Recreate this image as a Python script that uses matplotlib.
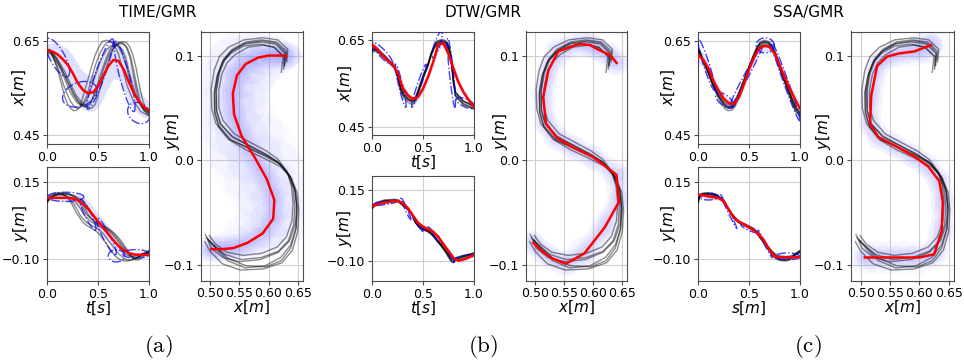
import numpy as np
import matplotlib
matplotlib.use("Agg")
import matplotlib.pyplot as plt
from matplotlib.patches import Ellipse

# ---------------- data ----------------
# demonstration paths (x, y) in metres, shared by all three methods
demo_x = [
    [0.631,0.633,0.616,0.590,0.558,0.532,0.516,0.507,0.502,0.503,0.510,0.531,0.561,0.592,0.620,0.639,0.649,0.652,0.650,0.641,0.623,0.591,0.552,0.521,0.500,0.491],
    [0.626,0.627,0.609,0.585,0.557,0.535,0.521,0.512,0.507,0.508,0.515,0.535,0.566,0.597,0.621,0.637,0.646,0.649,0.647,0.638,0.621,0.594,0.560,0.530,0.509,0.497],
    [0.622,0.625,0.610,0.591,0.565,0.543,0.529,0.520,0.515,0.515,0.522,0.542,0.569,0.596,0.616,0.631,0.639,0.642,0.640,0.631,0.615,0.588,0.557,0.529,0.509,0.499],
    [0.630,0.631,0.614,0.588,0.561,0.538,0.524,0.515,0.510,0.511,0.518,0.538,0.563,0.590,0.614,0.633,0.644,0.648,0.646,0.636,0.617,0.586,0.551,0.522,0.502,0.492],
    [0.627,0.628,0.612,0.586,0.558,0.536,0.522,0.513,0.508,0.508,0.515,0.535,0.563,0.594,0.620,0.637,0.646,0.649,0.647,0.638,0.622,0.596,0.562,0.531,0.509,0.498],
    [0.628,0.629,0.613,0.590,0.562,0.539,0.525,0.516,0.511,0.511,0.518,0.538,0.567,0.595,0.617,0.633,0.642,0.645,0.643,0.634,0.617,0.588,0.554,0.525,0.504,0.494],
]
demo_y = [
    [0.094,0.106,0.115,0.117,0.115,0.108,0.099,0.086,0.068,0.049,0.035,0.020,0.010,0.002,-0.006,-0.017,-0.031,-0.048,-0.068,-0.086,-0.098,-0.104,-0.105,-0.099,-0.087,-0.078],
    [0.087,0.099,0.108,0.111,0.109,0.102,0.093,0.080,0.064,0.045,0.032,0.019,0.012,0.004,-0.004,-0.016,-0.030,-0.047,-0.065,-0.081,-0.093,-0.101,-0.103,-0.096,-0.084,-0.076],
    [0.084,0.099,0.108,0.110,0.108,0.101,0.093,0.082,0.067,0.050,0.038,0.025,0.017,0.009,0.001,-0.010,-0.024,-0.041,-0.058,-0.073,-0.083,-0.089,-0.091,-0.088,-0.080,-0.072],
    [0.096,0.104,0.113,0.115,0.113,0.106,0.097,0.084,0.066,0.047,0.034,0.023,0.015,0.007,-0.001,-0.012,-0.026,-0.043,-0.061,-0.077,-0.088,-0.095,-0.097,-0.093,-0.084,-0.071],
    [0.090,0.102,0.111,0.113,0.111,0.104,0.095,0.082,0.066,0.047,0.033,0.020,0.012,0.004,-0.004,-0.015,-0.029,-0.046,-0.066,-0.084,-0.096,-0.102,-0.101,-0.094,-0.083,-0.077],
    [0.091,0.103,0.112,0.114,0.112,0.105,0.096,0.083,0.067,0.048,0.035,0.022,0.014,0.006,-0.002,-0.013,-0.027,-0.044,-0.062,-0.077,-0.087,-0.093,-0.095,-0.090,-0.080,-0.074],
]
# original time stamps of each demonstration (TIME)
demo_t = [
    [0,.02,.06,.10,.14,.17,.20,.23,.26,.29,.32,.35,.39,.43,.47,.51,.54,.58,.62,.66,.70,.74,.79,.85,.92,1],
    [0,.03,.07,.12,.16,.20,.23,.26,.29,.32,.35,.39,.43,.47,.51,.55,.58,.62,.66,.70,.74,.78,.82,.87,.93,1],
    [0,.03,.08,.13,.18,.22,.26,.29,.32,.35,.38,.42,.46,.50,.54,.58,.62,.66,.70,.74,.77,.80,.84,.88,.94,1],
    [0,.03,.09,.15,.21,.26,.30,.34,.37,.40,.43,.46,.50,.54,.58,.62,.66,.70,.74,.78,.81,.84,.87,.90,.95,1],
    [0,.04,.10,.17,.23,.28,.33,.37,.41,.44,.47,.50,.54,.58,.62,.66,.70,.74,.78,.81,.84,.87,.90,.93,.96,1],
    [0,.03,.08,.14,.20,.25,.29,.32,.35,.38,.42,.47,.52,.56,.60,.64,.68,.72,.76,.79,.82,.85,.88,.91,.95,1],
]
# DTW-aligned phase and arc-length phase of the demo samples
dtw_t = [0.00,0.04,0.12,0.22,0.26,0.28,0.31,0.35,0.39,0.41,0.43,0.46,0.50,0.55,0.58,0.61,0.64,0.68,0.72,0.75,0.77,0.785,0.80,0.82,0.90,1.00]
ssa_s = [0.00,0.01,0.04,0.09,0.14,0.19,0.23,0.26,0.29,0.33,0.36,0.40,0.45,0.50,0.545,0.58,0.61,0.65,0.69,0.73,0.765,0.81,0.87,0.92,0.96,1.00]

# GMR outputs on the query grid
grid = [0.00,0.05,0.10,0.15,0.20,0.25,0.30,0.35,0.40,0.45,0.50,0.55,0.60,0.65,0.70,0.75,0.80,0.85,0.90,0.95,1.00]
gmr_x_time = [0.630,0.628,0.622,0.612,0.600,0.582,0.561,0.546,0.539,0.541,0.554,0.576,0.597,0.610,0.608,0.590,0.564,0.540,0.522,0.510,0.502]
gmr_y_time = [0.099,0.100,0.100,0.100,0.100,0.098,0.092,0.081,0.064,0.044,0.023,0.003,-0.018,-0.038,-0.056,-0.070,-0.079,-0.084,-0.085,-0.085,-0.085]
std_x_time = [0.015,0.018,0.022,0.028,0.034,0.038,0.040,0.040,0.038,0.040,0.045,0.048,0.045,0.040,0.040,0.042,0.040,0.034,0.028,0.022,0.018]
std_y_time = [0.008,0.008,0.008,0.009,0.012,0.016,0.020,0.024,0.026,0.026,0.026,0.026,0.025,0.022,0.018,0.014,0.010,0.008,0.008,0.008,0.008]

gmr_x_dtw = [0.640,0.630,0.615,0.604,0.595,0.575,0.540,0.523,0.514,0.519,0.538,0.566,0.600,0.640,0.644,0.620,0.585,0.553,0.530,0.512,0.497]
gmr_y_dtw = [0.093,0.100,0.104,0.107,0.110,0.111,0.104,0.086,0.060,0.035,0.021,0.012,0.003,-0.014,-0.040,-0.064,-0.089,-0.099,-0.094,-0.087,-0.079]
std_x_dtw = [0.010,0.008,0.008,0.008,0.010,0.015,0.012,0.008,0.008,0.010,0.010,0.010,0.010,0.012,0.010,0.012,0.015,0.010,0.008,0.008,0.008]
std_y_dtw = [0.006,0.006,0.006,0.006,0.006,0.006,0.008,0.008,0.008,0.006,0.006,0.006,0.006,0.006,0.006,0.008,0.008,0.006,0.006,0.006,0.006]

gmr_x_ssa = [0.620,0.610,0.592,0.565,0.545,0.528,0.518,0.516,0.530,0.558,0.590,0.615,0.634,0.640,0.638,0.625,0.600,0.574,0.550,0.528,0.507]
gmr_y_ssa = [0.110,0.108,0.104,0.102,0.099,0.090,0.062,0.035,0.022,0.014,0.004,-0.006,-0.020,-0.040,-0.068,-0.090,-0.093,-0.093,-0.093,-0.093,-0.093]
std_x_ssa = [0.016,0.015,0.013,0.012,0.011,0.010,0.009,0.009,0.010,0.010,0.010,0.010,0.010,0.011,0.012,0.012,0.012,0.012,0.012,0.012,0.013]
std_y_ssa = [0.008,0.008,0.007,0.007,0.006,0.006,0.006,0.006,0.006,0.006,0.006,0.006,0.006,0.006,0.006,0.007,0.008,0.008,0.008,0.008,0.008]

# GMM components: centre (t, v) and two conjugate semi-axes (dt1, dv1), (dt2, dv2)
gmm_x_time = [[0.10,0.615,0.12,-0.030,0.00,0.028],[0.32,0.537,0.17,0.008,0.00,0.026],
              [0.52,0.580,0.12,0.075,0.05,0.000],[0.76,0.575,0.09,-0.075,0.05,0.000],
              [0.90,0.497,0.11,-0.005,0.00,0.022]]
gmm_y_time = [[0.18,0.103,0.18,0.000,0.00,0.015],[0.40,0.045,0.07,-0.050,0.035,0.000],
              [0.58,-0.025,0.09,-0.060,0.04,0.000],[0.68,-0.088,0.08,0.000,0.00,0.020],
              [0.87,-0.082,0.13,0.000,0.00,0.014]]
gmm_x_dtw = [[0.10,0.620,0.10,-0.022,0.00,0.012],[0.28,0.545,0.05,-0.050,0.02,0.000],
             [0.46,0.545,0.07,0.050,0.02,0.000],[0.64,0.640,0.05,0.025,0.00,0.018],
             [0.78,0.575,0.035,-0.080,0.02,0.000],[0.92,0.505,0.09,-0.008,0.00,0.010]]
gmm_y_dtw = [[0.12,0.104,0.12,0.006,0.00,0.006],[0.33,0.085,0.05,-0.040,0.012,0.000],
             [0.45,0.030,0.05,-0.025,0.00,0.006],[0.62,-0.010,0.07,-0.030,0.00,0.006],
             [0.78,-0.085,0.03,-0.020,0.00,0.008],[0.90,-0.088,0.10,0.008,0.00,0.006]]
gmm_x_ssa = [[0.08,0.600,0.08,-0.055,0.03,0.000],[0.26,0.524,0.09,-0.010,0.00,0.013],
             [0.47,0.575,0.16,0.065,0.025,0.000],[0.66,0.641,0.09,0.000,0.00,0.016],
             [0.86,0.565,0.14,-0.085,0.025,0.000]]
gmm_y_ssa = [[0.10,0.104,0.10,0.000,0.00,0.011],[0.30,0.055,0.08,-0.055,0.01,0.000],
             [0.50,0.000,0.08,-0.012,0.00,0.006],[0.66,-0.050,0.07,-0.045,0.01,0.000],
             [0.88,-0.090,0.12,0.000,0.00,0.011]]

titles = ["TIME/GMR", "DTW/GMR", "SSA/GMR"]
captions = ["(a)", "(b)", "(c)"]
xt_ticks = [0.0, 0.5, 1.0]
xv_ticks = [0.45, 0.65]
yv_ticks = [-0.10, 0.15]
tall_xticks = [0.50, 0.55, 0.60, 0.65]
tall_yticks = [-0.1, 0.0, 0.1]

# ---------------- drawing ----------------
W, H = 964, 360
fig = plt.figure(figsize=(W / 100, H / 100), dpi=100)

TICK_FS = 9
LAB_FS = 11
BAND = (0.55, 0.55, 1.0)

def add_ax(l, r, t, b):
    return fig.add_axes([l / W, 1 - b / H, (r - l) / W, (b - t) / H])

def style(ax):
    ax.grid(True, color="#cfcfcf", lw=0.8)
    ax.set_axisbelow(True)
    for s in ax.spines.values():
        s.set_color("#4d4d4d")
        s.set_linewidth(0.8)
    ax.tick_params(labelsize=TICK_FS, length=3, width=0.8, color="#4d4d4d", pad=2)

def draw_gmm(ax, comps):
    th = np.linspace(0, 2 * np.pi, 120)
    for ct, cv, a1, b1, a2, b2 in comps:
        ax.plot(ct + a1 * np.cos(th) + a2 * np.sin(th),
                cv + b1 * np.cos(th) + b2 * np.sin(th),
                color="blue", ls="-.", lw=1.0, alpha=0.75, zorder=4)

def time_plot(ax, phases, vals, g, mean, std, comps, ylim, yticks, xlabel, ylabel, lx):
    m = np.array(mean); s = np.array(std)
    ax.fill_between(g, m - s, m + s, color=BAND, alpha=0.28, lw=0, zorder=1)
    for p, v in zip(phases, vals):
        ax.plot(p, v, color="black", alpha=0.45, lw=1.0, zorder=3)
    draw_gmm(ax, comps)
    ax.plot(g, mean, color="red", lw=1.8, zorder=5)
    ax.set_xlim(0, 1)
    ax.set_ylim(*ylim)
    ax.set_xticks(xt_ticks)
    ax.set_yticks(yticks)
    if xlabel:
        ax.set_xlabel(xlabel, fontsize=LAB_FS, labelpad=-1)
    ax.set_ylabel(ylabel, fontsize=LAB_FS)
    ax.yaxis.set_label_coords(lx, 0.5)
    style(ax)

def tall_plot(ax, mx, my, sx, sy, wide, lx):
    levels = ((1.6, 0.045), (1.0, 0.055), (0.5, 0.055)) if wide else ((2.0, 0.06), (1.2, 0.07))
    for k, a in levels:
        for x, y, a_, b_ in zip(mx, my, sx, sy):
            ax.add_patch(Ellipse((x, y), 2 * k * a_, 2 * k * b_, color=BAND,
                                 alpha=a, lw=0, zorder=1))
    for w, a in ((16, 0.08), (11, 0.10), (6, 0.12)):
        ax.plot(mx, my, color=BAND, lw=w, alpha=a, solid_capstyle="round",
                solid_joinstyle="round", zorder=1)
    for x, y in zip(demo_x, demo_y):
        ax.plot(x, y, color="black", alpha=0.45, lw=1.0, zorder=3)
    ax.plot(mx, my, color="red", lw=1.8, zorder=5)
    ax.set_xlim(0.484, 0.6585)
    ax.set_ylim(-0.115, 0.123)
    ax.set_xticks(tall_xticks)
    ax.set_yticks(tall_yticks)
    ax.set_xlabel("$x[m]$", fontsize=LAB_FS, labelpad=-1)
    ax.set_ylabel("$y[m]$", fontsize=LAB_FS)
    ax.yaxis.set_label_coords(lx, 0.6)
    style(ax)

groups = [
    dict(xt_bottom=144, yt_top=167.3, xlab=None, ph=demo_t, ylab_t="$t[s]$",
         mx=gmr_x_time, my=gmr_y_time, sx=std_x_time, sy=std_y_time,
         gx=gmm_x_time, gy=gmm_y_time, wide=True, cx=158,
         box=(47.3, 149.0, 200.7, 302.7), lab=(-0.19, -0.17, -0.18)),
    dict(xt_bottom=135, yt_top=176, xlab="$t[s]$", ph=[dtw_t] * 6, ylab_t="$t[s]$",
         mx=gmr_x_dtw, my=gmr_y_dtw, sx=std_x_dtw, sy=std_y_dtw,
         gx=gmm_x_dtw, gy=gmm_y_dtw, wide=False, cx=483,
         box=(372.3, 473.7, 525.7, 627.3), lab=(-0.18, -0.18, -0.155)),
    dict(xt_bottom=144, yt_top=167.3, xlab=None, ph=[ssa_s] * 6, ylab_t="$s[m]$",
         mx=gmr_x_ssa, my=gmr_y_ssa, sx=std_x_ssa, sy=std_y_ssa,
         gx=gmm_x_ssa, gy=gmm_y_ssa, wide=False, cx=808,
         box=(698.3, 799.7, 851.3, 953.7), lab=(-0.21, -0.2, -0.18)),
]

for gi, gdef in enumerate(groups):
    lx, rx, tl, tr = gdef["box"]
    la, lb, lc = gdef["lab"]
    axx = add_ax(lx, rx, 31.5, gdef["xt_bottom"])
    time_plot(axx, gdef["ph"], demo_x, grid, gdef["mx"], gdef["sx"], gdef["gx"],
              (0.431, 0.6706), xv_ticks, gdef["xlab"], "$x[m]$", la)
    axy = add_ax(lx, rx, gdef["yt_top"], 280.7)
    time_plot(axy, gdef["ph"], demo_y, grid, gdef["my"], gdef["sy"], gdef["gy"],
              (-0.169, 0.199), yv_ticks, gdef["ylab_t"], "$y[m]$", lb)
    axt = add_ax(tl, tr, 31.5, 280.5)
    tall_plot(axt, gdef["mx"], gdef["my"], gdef["sx"], gdef["sy"], gdef["wide"], lc)

    fig.text(gdef["cx"] / W, 1 - 13 / H, titles[gi], ha="center", va="center", fontsize=11)
    fig.text(gdef["cx"] / W, 1 - 346 / H, r"$\mathrm{" + captions[gi] + "}$",
             ha="center", va="center", fontsize=16.5, math_fontfamily="cm")

fig.savefig("out.png", dpi=100)
